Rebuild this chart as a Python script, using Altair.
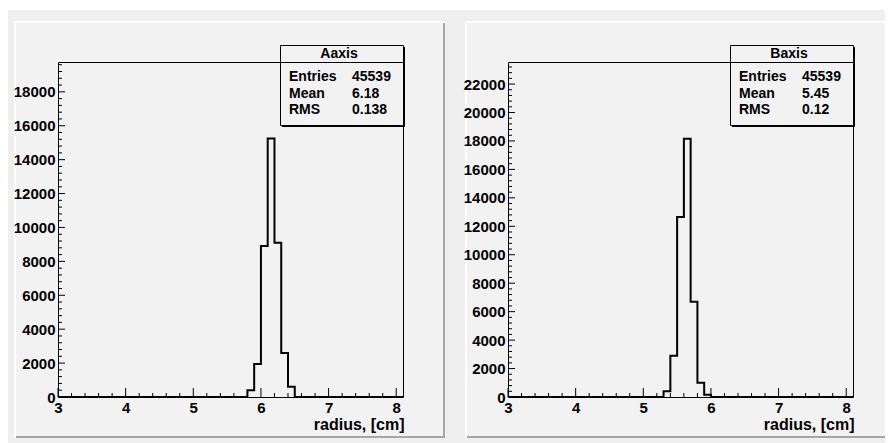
import altair as alt
import pandas as pd

FONT = "Liberation Sans"
PAD_GRAY = "#f2f2f2"
CANVAS_GRAY = "#efefef"
SHADOW = "#a6a6a6"

# ---- data ----
X_DOMAIN = [3.0, 8.1]
x_major = [3, 4, 5, 6, 7, 8]
x_minor = [3.2, 3.4, 3.6, 3.8, 4.2, 4.4, 4.6, 4.8, 5.2, 5.4, 5.6, 5.8,
           6.2, 6.4, 6.6, 6.8, 7.2, 7.4, 7.6, 7.8]
x_title = "radius, [cm]"

A_name = "Aaxis"
A_edges = [5.8, 5.9, 6.0, 6.1, 6.2, 6.3, 6.4, 6.5]
A_counts = [400, 1950, 8900, 15250, 9100, 2600, 600]
A_ymax = 19760
A_major = [0, 2000, 4000, 6000, 8000, 10000, 12000, 14000, 16000, 18000]
A_minor = [v for v in range(0, 19601, 400) if v % 2000]
A_stats_names = ["Entries", "Mean", "RMS"]
A_stats_values = ["45539", "6.18", "0.138"]

B_name = "Baxis"
B_edges = [5.3, 5.4, 5.5, 5.6, 5.7, 5.8, 5.9, 6.0]
B_counts = [400, 2900, 12650, 18150, 6700, 1000, 150]
B_ymax = 23550
B_major = [0, 2000, 4000, 6000, 8000, 10000, 12000, 14000, 16000, 18000, 20000, 22000]
B_minor = [v for v in range(0, 23201, 400) if v % 2000]
B_stats_names = ["Entries", "Mean", "RMS"]
B_stats_values = ["45539", "5.45", "0.12"]

W, H = 345, 335
one = pd.DataFrame({"k": [0]})


def box(x, x2, y, y2, **mk):
    return alt.Chart(one).mark_rect(**mk).encode(
        x=alt.value(x), x2=alt.value(x2), y=alt.value(y), y2=alt.value(y2))


def label(x, y, txt, **mk):
    return alt.Chart(one).mark_text(text=txt, font=FONT, fontWeight="bold",
                                    fontSize=14, color="black", baseline="middle", **mk).encode(
        x=alt.value(x), y=alt.value(y))


def step_table(edges, counts):
    xs = [X_DOMAIN[0]] + edges + [X_DOMAIN[1]]
    ys = [0] + counts + [0, 0]
    return pd.DataFrame({"x": xs, "y": ys})


def panel(name, edges, counts, ymax, ymajor, yminor, snames, svalues,
          pad_left, pad_right, right_border, canvas=False):
    data = step_table(edges, counts)
    xs = alt.Scale(domain=X_DOMAIN, nice=False, zero=False)
    ys = alt.Scale(domain=[0, ymax], nice=False, zero=False)
    xaxis = alt.Axis(
        values=x_major, orient="bottom", tickSize=0, domain=False, format="d",
        labelPadding=3, labelFlush=False, labelOverlap=False, grid=False, zindex=1,
        title=x_title, titleAnchor="end", titleAlign="right", titleBaseline="alphabetic",
        titleX=W + 1, titleY=32)
    yaxis = alt.Axis(
        values=ymajor, orient="left", tickSize=0, domain=False, format="d",
        labelPadding=3, labelBaseline="middle", labelOverlap=False, labelFlush=False,
        grid=False, zindex=1, title=None)

    layers = []
    if canvas:
        layers += [box(-50, 827, -54, 381, fill="white"),
                   box(-50, 827, -52, 381, fill=CANVAS_GRAY)]
    T, B = -41, 376
    layers += [box(pad_left, pad_right, T, B, fill="white"),
               box(pad_left + 2, pad_right, T + 2, B, fill=SHADOW),
               box(pad_left + 2, pad_right - 2 if right_border else pad_right, T + 2, B - 2, fill=PAD_GRAY)]
    # frame
    layers += [box(0.5, W + 0.5, 0.5, H + 0.5, fill=PAD_GRAY, stroke="black", strokeWidth=1)]

    main = alt.Chart(data).mark_line(interpolate="step-after", color="black", strokeWidth=2,
                                     strokeJoin="miter").encode(
        x=alt.X("x:Q", scale=xs, axis=xaxis),
        y=alt.Y("y:Q", scale=ys, axis=yaxis),
    )
    layers += [main]

    # ticks (inward, ROOT style)
    def xticks(vals, size):
        return alt.Chart(pd.DataFrame({"v": vals})).mark_rule(color="black", strokeWidth=1).encode(
            x=alt.X("v:Q", scale=xs, axis=xaxis), y=alt.value(H), y2=alt.value(H - size))

    def yticks(vals, size):
        return alt.Chart(pd.DataFrame({"v": vals})).mark_rule(color="black", strokeWidth=1).encode(
            y=alt.Y("v:Q", scale=ys, axis=yaxis), x=alt.value(0), x2=alt.value(size))

    layers += [xticks(x_major, 9), xticks(x_minor, 4), yticks(ymajor, 7), yticks(yminor, 4)]

    # stats box
    L, R, BT, BB = 222.5, 345.5, -16.5, 63.5
    layers += [box(L + 1.5, R + 1.5, BT + 1.5, BB + 1.5, fill="black"),
               box(L, R, BT, BB, fill=PAD_GRAY, stroke="black", strokeWidth=1),
               alt.Chart(one).mark_rule(color="black", strokeWidth=1).encode(
                   x=alt.value(L), x2=alt.value(R), y=alt.value(0.5)),
               label(281, -8.5, name, align="center")]
    for i, (n, v) in enumerate(zip(snames, svalues)):
        yy = [15, 31.5, 48][i]
        layers += [label(231, yy, n, align="left"), label(294, yy, v, align="left")]

    return alt.layer(*layers).properties(width=W, height=H)


p1 = panel(A_name, A_edges, A_counts, A_ymax, A_major, A_minor, A_stats_names, A_stats_values,
           -44, 387, True, canvas=True)
p2 = panel(B_name, B_edges, B_counts, B_ymax, B_major, B_minor, B_stats_names, B_stats_values,
           -43, 377, False)

chart = alt.hconcat(p1, p2, spacing=105, bounds="flush").properties(
    padding=0, background="white"
).configure_view(stroke=None).configure_axis(
    labelFont=FONT, labelFontWeight="bold", labelFontSize=15, labelColor="black",
    titleFont=FONT, titleFontWeight="bold", titleFontSize=16, titleColor="black",
)

chart.save("out.html", embed_options={"renderer": "svg", "actions": False})
